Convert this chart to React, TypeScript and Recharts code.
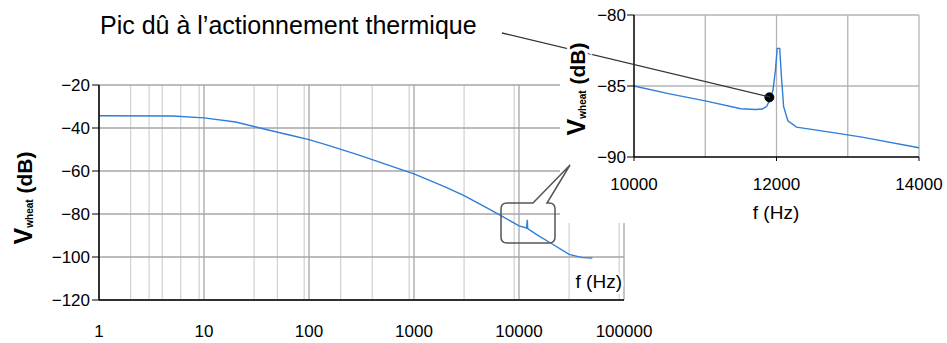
import React from 'react';
import { LineChart, Line, XAxis, YAxis, CartesianGrid, ReferenceDot } from 'recharts';

// main Bode-like response, log frequency axis
const mainFreq = [1, 5, 10, 20, 40, 70, 100, 150, 300, 500, 1000, 2000, 3000, 5000, 7000, 10000, 11800, 12000, 12100, 15000, 20000, 30000, 40000, 50000];
const mainDb = [-34.3, -34.4, -35.3, -37.2, -40.8, -43.6, -45.4, -48, -52.6, -56.3, -61.3, -67.5, -71.5, -77.3, -81.2, -85.5, -86.5, -82.7, -86.8, -89.8, -93.5, -98.8, -100.3, -100.5];
const mainXTicks = [1, 10, 100, 1000, 10000, 100000];
const decades = [1, 10, 100, 1000, 10000];
const minorSteps = [2, 3, 4, 5, 6, 7, 8, 9];
const mainYTicks = [-120, -100, -80, -60, -40, -20];

// zoom on the thermal peak
const insetFreq = [10000, 10500, 11000, 11500, 11700, 11800, 11860, 11900, 11950, 11985, 12010, 12045, 12070, 12100, 12160, 12280, 12750, 13200, 14000];
const insetDb = [-85.0, -85.55, -86.05, -86.6, -86.65, -86.62, -86.45, -86.05, -85.3, -83.9, -82.35, -82.35, -84.4, -86.45, -87.45, -87.9, -88.25, -88.6, -89.35];
const insetXTicks = [10000, 12000, 14000];
const insetGridX = [11000, 12000, 13000, 14000];
const insetYTicks = [-90, -85, -80];
const peakFreq = 11900;
const peakDb = -85.8;

const title = 'Pic dû à l’actionnement thermique';

const FONT = '"Liberation Sans", Arial, sans-serif';
const BLUE = '#2f7ed8';

const mainData = mainFreq.map((f, i) => ({ f, db: mainDb[i] }));
const insetData = insetFreq.map((f, i) => ({ f, db: insetDb[i] }));
const mainMinorX = decades.flatMap((d) => minorSteps.map((m) => d * m));

const tickStyle = { fill: '#000', fontSize: 17, fontFamily: FONT };
const fmtNeg = (v: number) => String(v).replace('-', '\u2212');

const AxisTitle = ({ x, y }: { x: number; y: number }) => (
    <text
        transform={`translate(${x},${y}) rotate(-90)`}
        textAnchor="middle"
        fontFamily={FONT}
        fontWeight="bold"
        fill="#000"
        stroke="#fff"
        strokeWidth={6}
        paintOrder="stroke"
    >
        <tspan fontSize={25}>V</tspan>
        <tspan fontSize={10} dy={1}>wheat</tspan>
        <tspan fontSize={21} dy={-1}> (dB)</tspan>
    </text>
);

export default function App() {
    return (
        <div style={{ position: 'absolute', left: 0, top: 0, width: 947, height: 343, background: '#fff' }}>
            <LineChart width={947} height={343} data={mainData} margin={{ top: 85, right: 323, bottom: 13, left: 39 }}>
                <CartesianGrid stroke="#d4d4d4" strokeWidth={1.3} horizontal={false} verticalValues={mainMinorX} />
                <CartesianGrid stroke="#a6a6a6" strokeWidth={1.3} verticalValues={mainXTicks} horizontalValues={mainYTicks} />
                <XAxis
                    dataKey="f"
                    type="number"
                    scale="log"
                    domain={[1, 100000]}
                    ticks={mainXTicks}
                    allowDataOverflow
                    height={30}
                    tickSize={0}
                    tickMargin={25}
                    axisLine={{ stroke: '#000', strokeWidth: 1.5 }}
                    tick={tickStyle}
                    tickFormatter={(v) => String(v)}
                />
                <YAxis
                    type="number"
                    domain={[-120, -20]}
                    ticks={mainYTicks}
                    width={60}
                    tickSize={7}
                    tickMargin={2}
                    axisLine={{ stroke: '#000', strokeWidth: 1.5 }}
                    tickLine={{ stroke: '#000' }}
                    tick={tickStyle}
                    tickFormatter={fmtNeg}
                />
                <Line dataKey="db" type="linear" stroke={BLUE} strokeWidth={1.4} dot={false} isAnimationActive={false} />
            </LineChart>

            <div style={{ position: 'absolute', left: 560, top: 0, width: 387, height: 223, background: '#fff' }}>
                <LineChart width={387} height={223} data={insetData} margin={{ top: 15, right: 28, bottom: 36, left: 14 }}>
                    <CartesianGrid stroke="#b4b4b4" strokeWidth={1.3} verticalValues={insetGridX} horizontalValues={[-85, -80]} />
                    <XAxis
                        dataKey="f"
                        type="number"
                        domain={[10000, 14000]}
                        ticks={insetXTicks}
                        height={30}
                        tickSize={4}
                        tickMargin={17}
                        axisLine={{ stroke: '#000', strokeWidth: 1.5 }}
                        tickLine={{ stroke: '#000' }}
                        tick={tickStyle}
                    />
                    <YAxis
                        type="number"
                        domain={[-90, -80]}
                        ticks={insetYTicks}
                        width={60}
                        tickSize={7}
                        tickMargin={1}
                        axisLine={{ stroke: '#000', strokeWidth: 1.5 }}
                        tickLine={{ stroke: '#000' }}
                        tick={tickStyle}
                        tickFormatter={fmtNeg}
                    />
                    <Line dataKey="db" type="linear" stroke={BLUE} strokeWidth={1.4} dot={false} isAnimationActive={false} />
                    <ReferenceDot x={peakFreq} y={peakDb} r={4.5} fill="#000" stroke="#000" />
                </LineChart>
            </div>

            {/* annotations drawn over both charts */}
            <svg width={947} height={343} style={{ position: 'absolute', left: 0, top: 0, pointerEvents: 'none' }}>
                <text x={100} y={34} fontFamily={FONT} fontSize={25} fill="#000">{title}</text>
                <line x1={502} y1={33} x2={770} y2={97} stroke="#333" strokeWidth={1.3} />
                <path
                    d="M507,203 L533,203 L570,165 L547,203 L549,203 Q555,203 555,209 L555,237 Q555,243 549,243 L507,243 Q501,243 501,237 L501,209 Q501,203 507,203 Z"
                    fill="none"
                    stroke="#555"
                    strokeWidth={1.5}
                />
                <AxisTitle x={32} y={198} />
                <AxisTitle x={585} y={89} />
                <text x={622} y={288} textAnchor="end" fontFamily={FONT} fontSize={19} fill="#000" stroke="#fff" strokeWidth={5} paintOrder="stroke">f (Hz)</text>
                <text x={776} y={219} textAnchor="middle" fontFamily={FONT} fontSize={19} fill="#000">f (Hz)</text>
            </svg>
        </div>
    );
}
